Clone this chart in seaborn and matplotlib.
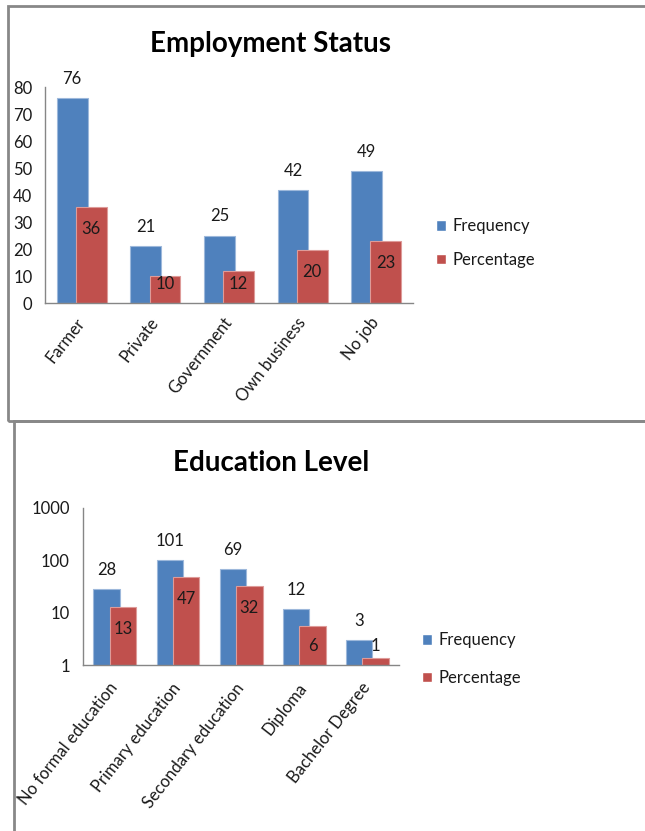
import numpy as np
import pandas as pd
import matplotlib
matplotlib.use('Agg')
import matplotlib.pyplot as plt
from matplotlib.patches import Rectangle
from matplotlib.ticker import NullLocator, FixedLocator
import seaborn as sns

# data
emp_categories = ['Farmer', 'Private', 'Government', 'Own business', 'No job']
emp_freq = [76, 21, 25, 42, 49]
emp_pct = [35.7, 9.9, 11.7, 19.7, 23.0]

edu_categories = ['No formal education', 'Primary education', 'Secondary education',
                  'Diploma', 'Bachelor Degree']
edu_freq = [28, 101, 69, 12, 3]
edu_pct = [13.1, 47.4, 32.4, 5.6, 1.4]

series = ['Frequency', 'Percentage']
colors = ['#4F81BD', '#C0504D']
edges = ['#9DB8DB', '#DE9B99']

sns.set_style('white')
plt.rcParams['font.family'] = ['Lato', 'DejaVu Sans']
plt.rcParams['text.color'] = '#1a1a1a'
plt.rcParams['xtick.color'] = '#868686'
plt.rcParams['ytick.color'] = '#868686'
plt.rcParams['xtick.labelcolor'] = '#1a1a1a'
plt.rcParams['ytick.labelcolor'] = '#1a1a1a'

FS = 12
TFS = 20

W, H = 645, 831
DPI = 100
fig = plt.figure(figsize=(W / DPI, H / DPI), dpi=DPI)


def px(x0, y0, x1, y1):
    # pixel box (top-left origin) -> figure fraction rect
    return [x0 / W, 1 - y1 / H, (x1 - x0) / W, (y1 - y0) / H]


# panel frames
for (x0, y0, x1, y1) in [(8, 6, 660, 421), (14, 421, 660, 850)]:
    fig.patches.append(Rectangle((x0 / W, 1 - y1 / H), (x1 - x0) / W, (y1 - y0) / H,
                                 transform=fig.transFigure, fill=False,
                                 edgecolor='#888888', linewidth=2))


def make_df(cats, freq, pct):
    return pd.DataFrame({
        'cat': cats * 2,
        'value': list(freq) + list(pct),
        'series': ['Frequency'] * len(cats) + ['Percentage'] * len(cats),
    })


def draw_panel(rect, cats, freq, pct, title, title_y, legend_y, spacing,
               xpad, log=False):
    ax = fig.add_axes(rect)
    df = make_df(cats, freq, pct)
    sns.barplot(data=df, x='cat', y='value', hue='series', hue_order=series,
                palette=colors, saturation=1, ax=ax, width=0.8, dodge=True,
                legend=True)
    # overlap the two bars like the original
    offsets = [-0.13, 0.13]
    bw = 0.42
    for ci, cont in enumerate(ax.containers):
        for bar in cont:
            c = round(bar.get_x() + bar.get_width() / 2)
            bar.set_x(c + offsets[ci] - bw / 2)
            bar.set_width(bw)
            bar.set_edgecolor(edges[ci])
            bar.set_linewidth(0.8)
    ax.set_xlim(-0.5, len(cats) - 0.5)
    if log:
        ax.set_yscale('log')
        ax.set_ylim(1, 1000)
        ax.yaxis.set_major_locator(FixedLocator([1, 10, 100, 1000]))
        ax.yaxis.set_minor_locator(NullLocator())
        ax.set_yticklabels(['1', '10', '100', '1000'])
        ax.tick_params(axis='y', length=3.6, width=1, pad=6, labelsize=FS)
        ax.xaxis.set_minor_locator(FixedLocator(np.arange(-0.5, len(cats), 1)))
        ax.tick_params(axis='x', which='minor', length=5, width=1)
    else:
        ax.set_ylim(0, 80)
        ax.set_yticks(range(0, 81, 10))
        ax.tick_params(axis='y', length=0, pad=9, labelsize=FS)
    ax.tick_params(axis='x', which='major', length=0, pad=xpad, labelsize=FS)
    ax.set_xticks(range(len(cats)))
    ax.set_xticklabels(cats, rotation=52, ha='right', va='center',
                       rotation_mode='anchor')
    ax.set_xlabel('')
    ax.set_ylabel('')
    sns.despine(ax=ax)
    for s in ['left', 'bottom']:
        ax.spines[s].set_color('#868686')
        ax.spines[s].set_linewidth(1)

    # data labels: frequency above the bar, percentage inside near the top
    fig.canvas.draw()
    pt = 72 / DPI
    for ci, cont in enumerate(ax.containers):
        for bar, v in zip(cont, [freq, pct][ci]):
            xc = bar.get_x() + bar.get_width() / 2
            top = bar.get_y() + bar.get_height()
            if ci == 0:
                off = 13.7
            else:
                base = ax.get_ylim()[0]
                y_top = ax.transData.transform((xc, top))[1]
                y_bot = ax.transData.transform((xc, max(bar.get_y(), base)))[1]
                h = (y_top - y_bot) * pt
                off = -min(16, h - 13.7)
            ax.annotate(f'{v:.0f}', (xc, top), xytext=(0, off),
                        textcoords='offset points', ha='center', va='center',
                        fontsize=FS, color='#1a1a1a')

    handles, labels = ax.get_legend_handles_labels()
    ax.legend(handles, labels, loc='center left',
              bbox_to_anchor=(rect[0] + rect[2] + 0.035, 1 - legend_y / H),
              bbox_transform=fig.transFigure, frameon=False, fontsize=FS,
              handlelength=0.6, handleheight=0.6, handletextpad=0.4,
              labelspacing=spacing, borderaxespad=0, borderpad=0)
    fig.text(271 / W, 1 - title_y / H, title, ha='center',
             va='center', fontsize=TFS, fontweight='bold', color='black')
    return ax


draw_panel(px(45, 87, 413, 303), emp_categories, emp_freq, emp_pct,
           'Employment Status', 44, 243, 1.05, 12)
draw_panel(px(83.3, 507.7, 399, 665.3), edu_categories, edu_freq, edu_pct,
           'Education Level', 463, 659, 1.3, 14, log=True)

fig.savefig('out.png', dpi=DPI)
